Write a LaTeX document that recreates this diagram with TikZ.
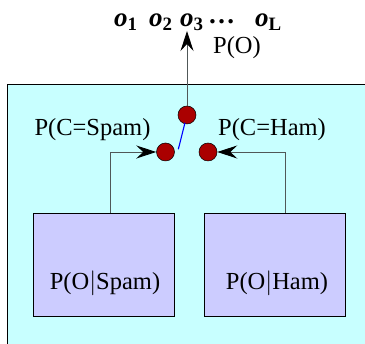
\documentclass[tikz,border=0pt]{standalone}
\usepackage{fontspec}
\setmainfont{Liberation Serif}
\usetikzlibrary{arrows.meta}
\definecolor{outerfill}{HTML}{C8FFFF}
\definecolor{boxfill}{HTML}{CCCCFF}
\definecolor{dotfill}{HTML}{AA0000}
\definecolor{wire}{HTML}{505858}
\tikzset{
  lbl/.style={inner sep=0pt, font=\fontsize{24.5}{28}\selectfont},
  obsl/.style={inner sep=0pt, anchor=base west, font=\fontsize{27}{30}\selectfont\bfseries},
  dist/.style={draw=black, line width=0.8pt, fill=boxfill, minimum width=141pt, minimum height=103pt, inner sep=0pt},
  dot/.style={circle, draw=black, line width=0.5pt, fill=dotfill, minimum size=18pt, inner sep=0pt},
  conn/.style={draw=wire, line width=0.9pt},
  arrowhead/.style={-{Stealth[length=20pt,width=13pt,inset=7pt,color=black]}}
}
\newcommand{\obsv}[1]{\textit{o}\textsubscript{#1}}
\begin{document}
\begin{tikzpicture}[x=1pt,y=1pt]
\useasboundingbox (0,0) rectangle (365,344);
\clip (0,0) rectangle (365,344);
\draw[line width=1pt, fill=outerfill] (7,259) rectangle (380,-16);
\node[dist] (spam) at (103.5,79.5) {};
\node[dist] (ham) at (274.5,79.5) {};
\node[lbl] (pspam) at (105,61) {P(O$|$Spam)};
\node[lbl] (pham) at (277,61) {P(O$|$Ham)};
\node[dot] (top) at (187,229) {};
\node[dot] (ls) at (165.5,192) {};
\node[dot] (rs) at (208,192) {};
\coordinate (out) at (187,313);
\coordinate (swa) at (185,221.3);
\coordinate (sw) at (178.3,194.7);
\draw[conn, arrowhead] (top) -- (out);
\draw[conn, arrowhead] (spam.north -| 110,0) |- (ls.west);
\draw[conn, arrowhead] (ham.north -| 285,0) |- (rs.east);
\draw[blue, line width=1.1pt] (swa) -- (sw);
\node[lbl] (pcs) at (92.5,214) {P(C=Spam)};
\node[lbl] (pch) at (272,214) {P(C=Ham)};
\node[lbl] (po) at (237,296) {P(O)};
\node[obsl] (o1) at (114,317) {\obsv{1}};
\node[obsl] (o2) at (149,317) {\obsv{2}};
\node[obsl] (o3) at (180,317) {\obsv{3}};
\node[obsl] (dots) at (208,317) {\raisebox{3.5pt}{…}};
\node[obsl] (oL) at (255,317) {\obsv{L}};
\end{tikzpicture}
\end{document}
